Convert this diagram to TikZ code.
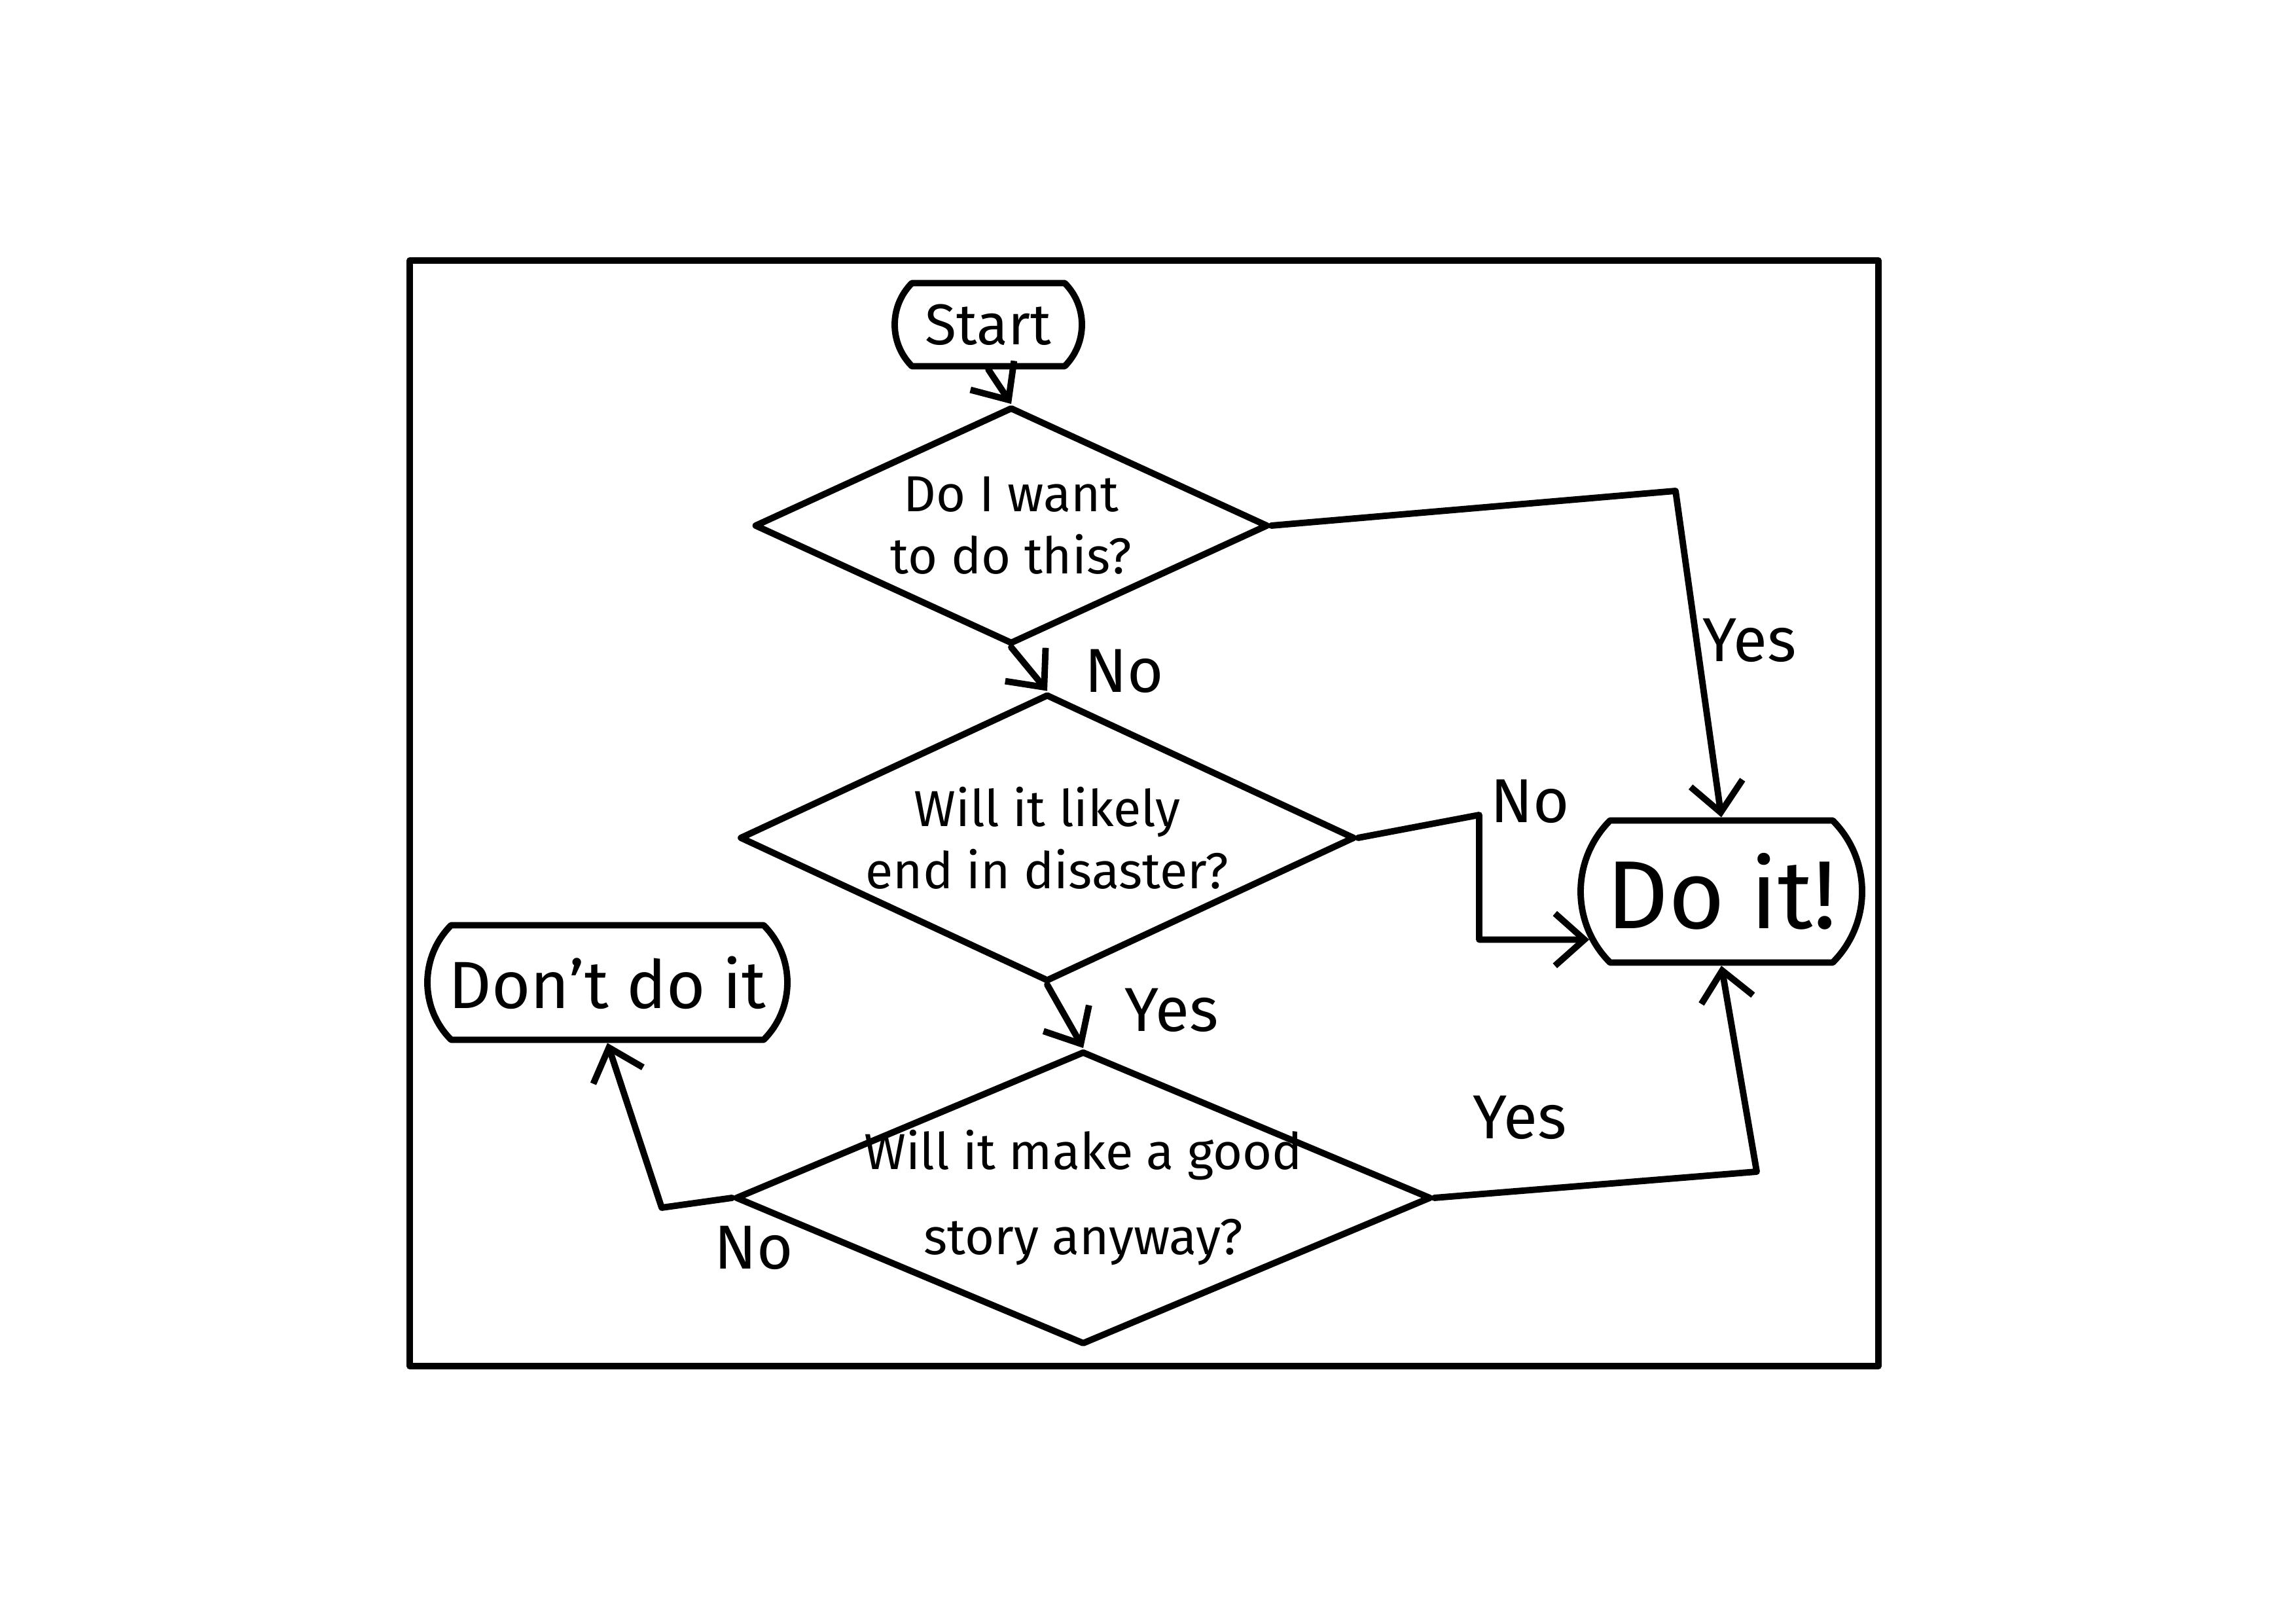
\documentclass[tikz,border=0pt]{standalone}
\usepackage{fontspec}
\setmainfont{Fira Sans}
\usetikzlibrary{arrows.meta,shapes.geometric,shapes.misc}

\begin{document}
\begin{tikzpicture}[line width=2.8pt, line join=round, line cap=round, >={Straight Barb[length=4.5mm,width=8mm]},
	dec/.style={draw, diamond, inner sep=0pt},
	ask/.style={align=center, font=\fontsize{22}{27}\selectfont},
	term/.style={draw, rounded rectangle, rounded rectangle arc length=90, inner sep=0pt},
	lbl/.style={font=\fontsize{27}{32}\selectfont}]
	\useasboundingbox (0,0) rectangle (35.08,24.80);
	\draw (6.26,3.93) rectangle (28.70,20.82);
	\node[term, minimum width=2.86cm, minimum height=1.27cm, font=\fontsize{25}{30}\selectfont] (start) at (15.1,19.84) {Start};
	\node[dec, minimum width=7.85cm, minimum height=3.62cm, label={[ask]center:Do I want\\to do this?}] (want) at (15.45,16.77) {};
	\node[dec, minimum width=9.4cm, minimum height=4.39cm, label={[ask]center:Will it likely\\end in disaster?}] (risk) at (16.0,12.0) {};
	\node[dec, minimum width=10.63cm, minimum height=4.48cm, label={[ask, font=\fontsize{22}{37}\selectfont]center:Will it make a good\\story anyway?}] (story) at (16.55,6.5) {};
	\node[term, minimum width=4.3cm, minimum height=2.17cm, font=\fontsize{42}{50}\selectfont] (doit) at (26.3,11.18) {Do it!};
	\node[term, minimum width=5.5cm, minimum height=1.75cm, font=\fontsize{29}{35}\selectfont] (dont) at (9.28,9.79) {Don't do it};
	\coordinate (wantbend) at (25.6,17.3);
	\coordinate (riskbend) at (22.6,12.35);
	\coordinate (storybend) at (26.84,6.9);
	\coordinate (storyback) at (10.11,6.35);
	\draw[->] (start.south) -- (want.north);
	\draw[->] (want.south) -- (risk.north);
	\draw[->] (risk.south) -- (story.north);
	\draw[->] (want.east) -- (wantbend) -- (doit.north);
	\draw[->] (risk.east) -- (riskbend) -- (riskbend |- doit.200) -- (doit.200);
	\draw[->] (story.east) -- (storybend) -- (doit.south);
	\draw[->] (story.west) -- (storyback) -- (dont.south);
	\node[lbl] (nowant) at (17.18,14.55) {No};
	\node[lbl] (yeswant) at (26.73,15.02) {Yes};
	\node[lbl] (norisk) at (23.38,12.56) {No};
	\node[lbl] (yesrisk) at (17.9,9.37) {Yes};
	\node[lbl] (yesstory) at (23.22,7.73) {Yes};
	\node[lbl] (nostory) at (11.52,5.74) {No};
\end{tikzpicture}
\end{document}
